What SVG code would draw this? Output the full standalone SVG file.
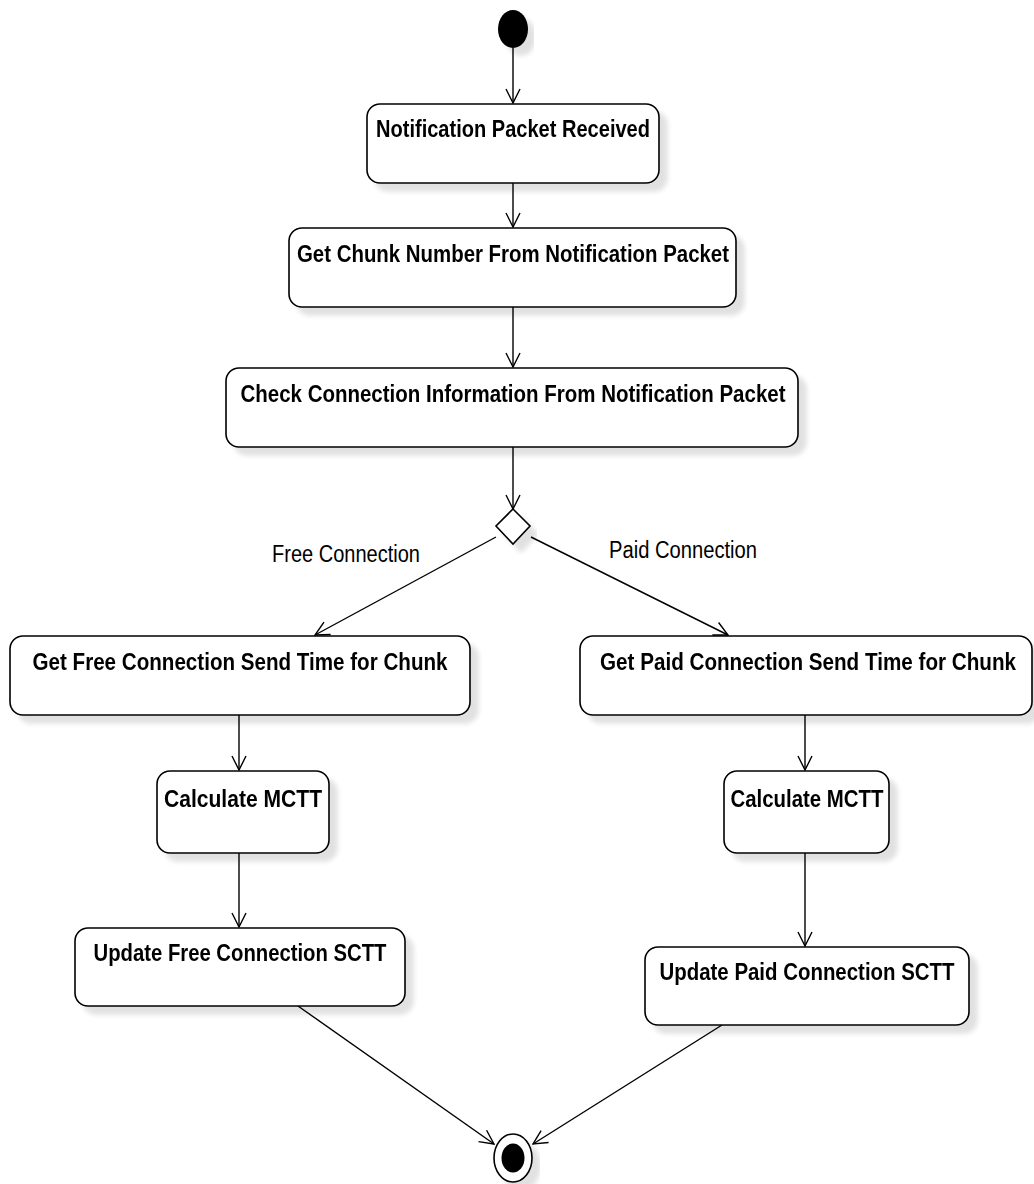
<svg xmlns="http://www.w3.org/2000/svg" width="1034" height="1184" viewBox="0 0 1034 1184">
  <style>
    .act { fill: #ffffff; stroke: #000000; stroke-width: 1.6; }
    .lbl { font-family: "Liberation Sans Narrow", "Liberation Sans", Arial, sans-serif; font-weight: bold; font-size: 23px; fill: #000000; text-anchor: middle; }
    .guard { font-family: "Liberation Sans Narrow", "Liberation Sans", Arial, sans-serif; font-size: 23px; fill: #000000; text-anchor: middle; }
    .flow { fill: none; stroke: #000000; stroke-width: 1.4; marker-end: url(#open); }
  </style>
  <defs>
    <marker id="open" viewBox="0 0 16 16" refX="15" refY="8" markerWidth="16" markerHeight="16" markerUnits="userSpaceOnUse" orient="auto">
      <path d="M1,1 L15,8 L1,15" fill="none" stroke="#000000" stroke-width="1.4"/>
    </marker>
    <filter id="shadow" x="-10%" y="-10%" width="130%" height="140%">
      <feGaussianBlur in="SourceAlpha" stdDeviation="2.5"/>
      <feOffset dx="8" dy="8" result="b"/>
      <feComponentTransfer><feFuncA type="linear" slope="0.12"/></feComponentTransfer>
      <feMerge><feMergeNode/><feMergeNode in="SourceGraphic"/></feMerge>
    </filter>
  </defs>
  <rect width="1034" height="1184" fill="#ffffff"/>

  <!-- control flow -->
  <g id="connectors">
    <line class="flow" x1="513" y1="48" x2="513" y2="103"/>
    <line class="flow" x1="513" y1="183" x2="513" y2="227"/>
    <line class="flow" x1="513" y1="307" x2="513" y2="367"/>
    <line class="flow" x1="513" y1="447" x2="513" y2="509"/>
    <line class="flow" x1="496" y1="537" x2="315" y2="635"/>
    <line class="flow" x1="531" y1="537" x2="728" y2="635"/>
    <line class="flow" x1="239" y1="715" x2="239" y2="770"/>
    <line class="flow" x1="239" y1="853" x2="239" y2="927"/>
    <line class="flow" x1="805" y1="715" x2="805" y2="770"/>
    <line class="flow" x1="805" y1="853" x2="805" y2="946"/>
    <line class="flow" x1="298" y1="1006" x2="494" y2="1144"/>
    <line class="flow" x1="722" y1="1025" x2="533" y2="1144"/>
    <text class="guard" x="346" y="562" textLength="148" lengthAdjust="spacingAndGlyphs">Free Connection</text>
    <text class="guard" x="683" y="558" textLength="148" lengthAdjust="spacingAndGlyphs">Paid Connection</text>
  </g>

  <g id="start" filter="url(#shadow)">
    <ellipse cx="513" cy="29" rx="15" ry="19" fill="#000000"/>
  </g>

  <g id="notification-received" filter="url(#shadow)">
    <rect class="act" x="367" y="104" width="292" height="79" rx="13"/>
    <text class="lbl" x="513" y="137" textLength="274" lengthAdjust="spacingAndGlyphs">Notification Packet Received</text>
  </g>

  <g id="get-chunk-number" filter="url(#shadow)">
    <rect class="act" x="289" y="228" width="447" height="79" rx="13"/>
    <text class="lbl" x="513" y="262" textLength="432" lengthAdjust="spacingAndGlyphs">Get Chunk Number From Notification Packet</text>
  </g>

  <g id="check-connection" filter="url(#shadow)">
    <rect class="act" x="226" y="368" width="572" height="79" rx="13"/>
    <text class="lbl" x="513" y="402" textLength="545" lengthAdjust="spacingAndGlyphs">Check Connection Information From Notification Packet</text>
  </g>

  <g id="decision" filter="url(#shadow)">
    <polygon class="act" points="513,509 530,526 513,544 496,526"/>
  </g>

  <g id="free-send-time" filter="url(#shadow)">
    <rect class="act" x="10" y="636" width="460" height="79" rx="13"/>
    <text class="lbl" x="240" y="670" textLength="415" lengthAdjust="spacingAndGlyphs">Get Free Connection Send Time for Chunk</text>
  </g>

  <g id="paid-send-time" filter="url(#shadow)">
    <rect class="act" x="580" y="636" width="452" height="79" rx="13"/>
    <text class="lbl" x="808" y="670" textLength="416" lengthAdjust="spacingAndGlyphs">Get Paid Connection Send Time for Chunk</text>
  </g>

  <g id="free-mctt" filter="url(#shadow)">
    <rect class="act" x="157" y="771" width="172" height="82" rx="13"/>
    <text class="lbl" x="243" y="807" textLength="158" lengthAdjust="spacingAndGlyphs">Calculate MCTT</text>
  </g>

  <g id="paid-mctt" filter="url(#shadow)">
    <rect class="act" x="724" y="771" width="165" height="82" rx="13"/>
    <text class="lbl" x="807" y="807" textLength="153" lengthAdjust="spacingAndGlyphs">Calculate MCTT</text>
  </g>

  <g id="free-sctt" filter="url(#shadow)">
    <rect class="act" x="75" y="928" width="330" height="78" rx="13"/>
    <text class="lbl" x="240" y="961" textLength="293" lengthAdjust="spacingAndGlyphs">Update Free Connection SCTT</text>
  </g>

  <g id="paid-sctt" filter="url(#shadow)">
    <rect class="act" x="645" y="947" width="324" height="78" rx="13"/>
    <text class="lbl" x="807" y="980" textLength="295" lengthAdjust="spacingAndGlyphs">Update Paid Connection SCTT</text>
  </g>

  <g id="end" filter="url(#shadow)">
    <ellipse cx="513" cy="1158" rx="19" ry="24" fill="#ffffff" stroke="#000000" stroke-width="1.6"/>
    <ellipse cx="513" cy="1158" rx="11.5" ry="14.5" fill="#000000"/>
  </g>
</svg>
